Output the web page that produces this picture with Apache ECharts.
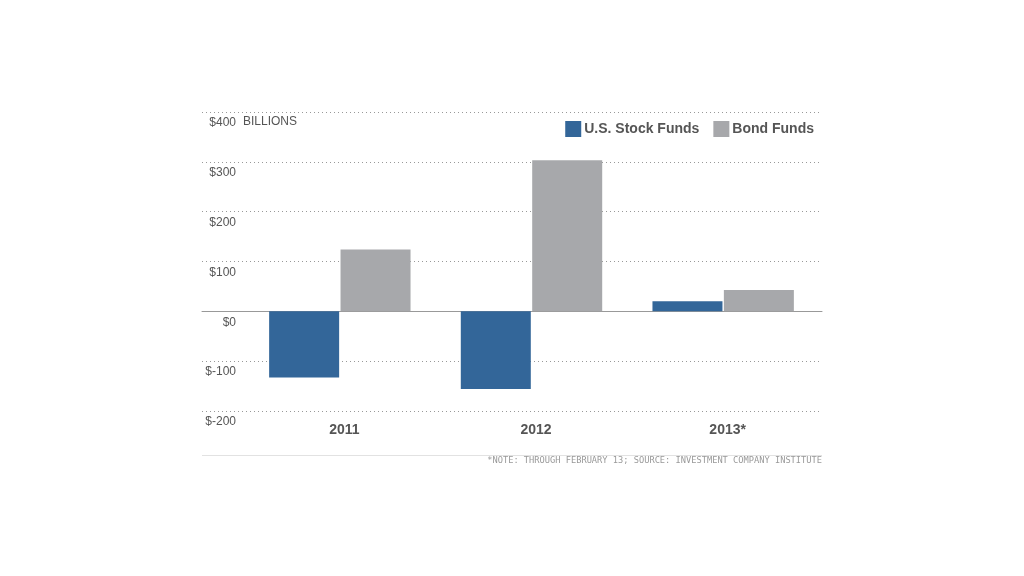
<!DOCTYPE html>
<html><head><meta charset="utf-8">
<script src="https://cdn.jsdelivr.net/npm/echarts@6/dist/echarts.min.js"></script>
<style>html,body{margin:0;padding:0;background:#fff}#c{width:1024px;height:576px}</style>
</head><body><div id="c"></div>
<script>
const categories = ['2011', '2012', '2013*'];
const stockFunds = [-133, -156, 20];
const bondFunds = [124, 303, 43];
const yTicks = [-200, -100, 0, 100, 200, 300, 400];
const seriesNames = ['U.S. Stock Funds', 'Bond Funds'];
const note = '*NOTE: THROUGH FEBRUARY 13; SOURCE: INVESTMENT COMPANY INSTITUTE';

const chart = echarts.init(document.getElementById('c'));
const yMin = yTicks[0], yMax = yTicks[yTicks.length - 1];
chart.setOption({
  animation: false,
  textStyle: { fontFamily: 'Liberation Sans, Arial, sans-serif' },
  legend: {
    right: 205, top: 116, itemWidth: 16, itemHeight: 16, itemGap: 14,
    icon: 'rect',
    textStyle: { fontSize: 14, fontWeight: 'bold', color: '#555', padding: [0, 0, 0, -2] },
    data: seriesNames
  },
  grid: [
    { left: 202, width: 620, top: 112, bottom: 165 },
    { left: 244, width: 575, top: 112, bottom: 165 }
  ],
  xAxis: [
    { gridIndex: 0, type: 'category', data: [''], axisTick: { show: false }, axisLabel: { show: false },
      axisLine: { show: true, onZero: true, lineStyle: { color: '#999', width: 1 } } },
    { gridIndex: 1, type: 'category', data: categories, axisTick: { show: false },
      axisLine: { show: false, onZero: false },
      axisLabel: { fontSize: 14, fontWeight: 'bold', color: '#555', margin: 12, padding: [0, 0, 0, 9] } }
  ],
  yAxis: [
    { gridIndex: 0, type: 'value', min: yMin, max: yMax, interval: 100,
      axisLine: { show: false }, axisTick: { show: false },
      splitLine: { lineStyle: { type: [1, 3], color: '#999' } },
      axisLabel: { fontSize: 12, color: '#555', margin: -34, verticalAlign: 'top', padding: [5, 0, 0, 0],
        formatter: v => '$' + v } },
    { gridIndex: 1, type: 'value', min: yMin, max: yMax, interval: 100, show: false }
  ],
  series: [
    { name: seriesNames[0], type: 'bar', xAxisIndex: 1, yAxisIndex: 1, data: stockFunds,
      barWidth: 70, barGap: '2%', itemStyle: { color: '#336699' } },
    { name: seriesNames[1], type: 'bar', xAxisIndex: 1, yAxisIndex: 1, data: bondFunds,
      barWidth: 70, barGap: '2%', itemStyle: { color: '#a7a8ab' } }
  ],
  graphic: [
    { type: 'text', left: 243, top: 116, style: { text: 'BILLIONS', fontSize: 12, fill: '#555', fontFamily: 'Liberation Sans, Arial, sans-serif' } },
    { type: 'line', shape: { x1: 202, y1: 455.5, x2: 822, y2: 455.5 }, style: { stroke: '#e2e2e2', lineWidth: 1 } },
    { type: 'text', right: 202, top: 456, style: { text: note, fontSize: 8.7, fill: '#999', fontFamily: 'DejaVu Sans Mono, monospace' } }
  ]
});
</script></body></html>
